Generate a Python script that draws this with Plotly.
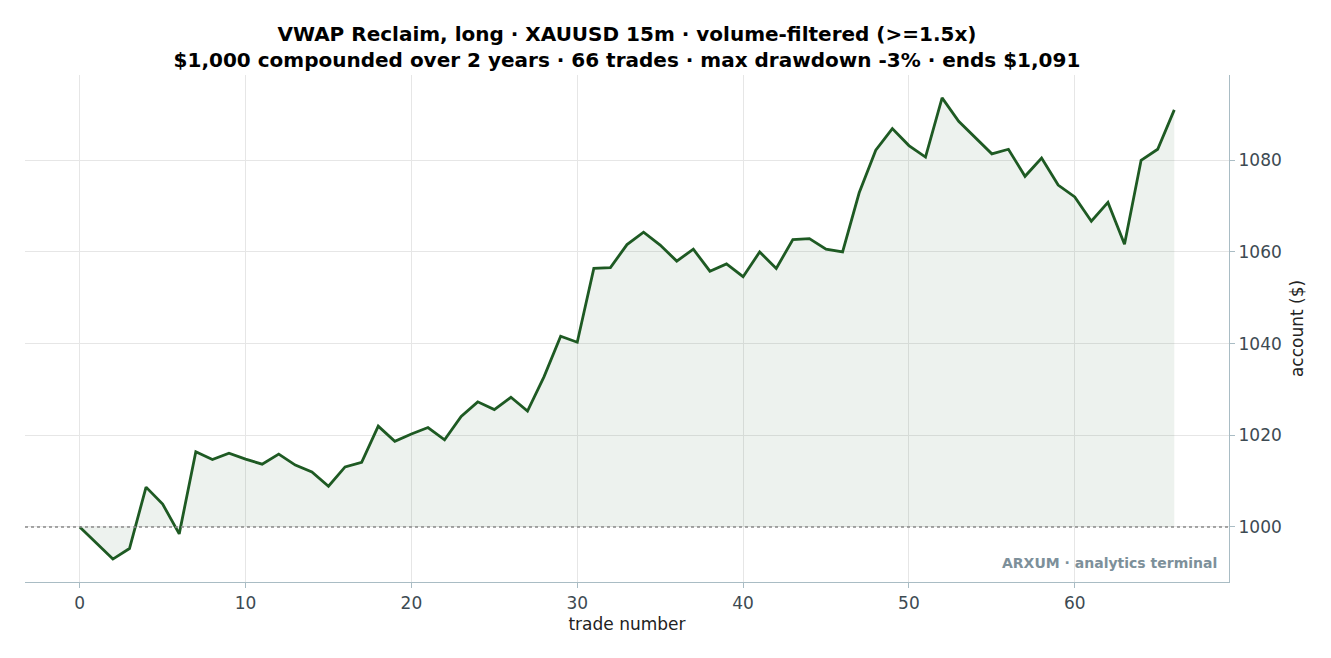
import plotly.graph_objects as go

# equity curve, one value per trade (0 = start)
trade_number = list(range(67))
account = [
    1000.0, 996.5, 993.0, 995.3, 1008.7, 1005.0, 998.5, 1016.4, 1014.7, 1016.1,
    1014.8, 1013.7, 1015.9, 1013.5, 1012.0, 1008.9, 1013.1, 1014.1, 1022.0, 1018.7,
    1020.3, 1021.7, 1019.0, 1024.1, 1027.3, 1025.6, 1028.3, 1025.3, 1032.8, 1041.6,
    1040.3, 1056.4, 1056.6, 1061.6, 1064.3, 1061.5, 1058.0, 1060.6, 1055.8, 1057.4,
    1054.6, 1060.0, 1056.4, 1062.7, 1062.9, 1060.6, 1060.0, 1072.9, 1082.2, 1086.9,
    1083.2, 1080.7, 1093.6, 1088.5, 1085.0, 1081.4, 1082.4, 1076.5, 1080.5, 1074.6,
    1072.0, 1066.7, 1070.8, 1061.7, 1080.0, 1082.4, 1091.0,
]
start_balance = 1000
x_ticks = [0, 10, 20, 30, 40, 50, 60]
y_ticks = [1000, 1020, 1040, 1060, 1080]

title_text = ("<b>VWAP Reclaim, long · XAUUSD 15m · volume-filtered (>=1.5x)</b><br>"
              "<b>$1,000 compounded over 2 years · 66 trades · max drawdown -3% · ends $1,091</b>")

LINE = "#1e5a23"
SPINE = "#a9bcc4"
GRID = "#e6e6e6"
TICK_TXT = "#3d4a52"

fig = go.Figure()

# baseline trace so the fill goes between the curve and $1,000
fig.add_trace(go.Scatter(x=trade_number, y=[start_balance] * len(trade_number),
                         mode="lines", line=dict(width=0), hoverinfo="skip", showlegend=False))
fig.add_trace(go.Scatter(x=trade_number, y=account, mode="lines",
                         line=dict(color=LINE, width=2.8),
                         fill="tonexty", fillcolor="rgba(30,90,35,0.08)",
                         showlegend=False))

fig.add_shape(type="line", xref="paper", x0=0, x1=1, yref="y", y0=start_balance, y1=start_balance,
              line=dict(color="#8a8a8a", width=1.3, dash="dot"), layer="above")

fig.add_annotation(text="<b>ARXUM · analytics terminal</b>", xref="paper", yref="paper",
                   x=0.992, y=0.038, xanchor="right", yanchor="middle", showarrow=False,
                   font=dict(family="DejaVu Sans", size=14, color="#7d909a"))

fig.update_layout(
    width=1331, height=658,
    margin=dict(l=17, r=110, t=67, b=84),
    paper_bgcolor="white", plot_bgcolor="white",
    font=dict(family="DejaVu Sans", color="#222222"),
    title=dict(text=title_text, xref="paper", x=0.5, xanchor="center", y=0.95, yanchor="top",
               font=dict(family="DejaVu Sans", size=20, color="black")),
)
fig.update_xaxes(
    range=[-3.3, 69.3], tickvals=x_ticks, showgrid=True, gridcolor=GRID, zeroline=False,
    showline=True, linecolor=SPINE, linewidth=1.2,
    ticks="outside", ticklen=5, tickcolor=SPINE,
    tickfont=dict(size=17, color=TICK_TXT),
    title=dict(text="trade number", font=dict(size=17, color="#222222"), standoff=6),
)
fig.update_yaxes(
    range=[988.0, 1098.6], tickvals=y_ticks, side="right", showgrid=True, gridcolor=GRID,
    zeroline=False, showline=True, linecolor=SPINE, linewidth=1.2,
    ticks="outside", ticklen=5, tickcolor=SPINE,
    tickfont=dict(size=17, color=TICK_TXT),
    title=dict(text="account ($)", font=dict(size=17, color="#222222"), standoff=10),
)

fig.write_html("out.html")
